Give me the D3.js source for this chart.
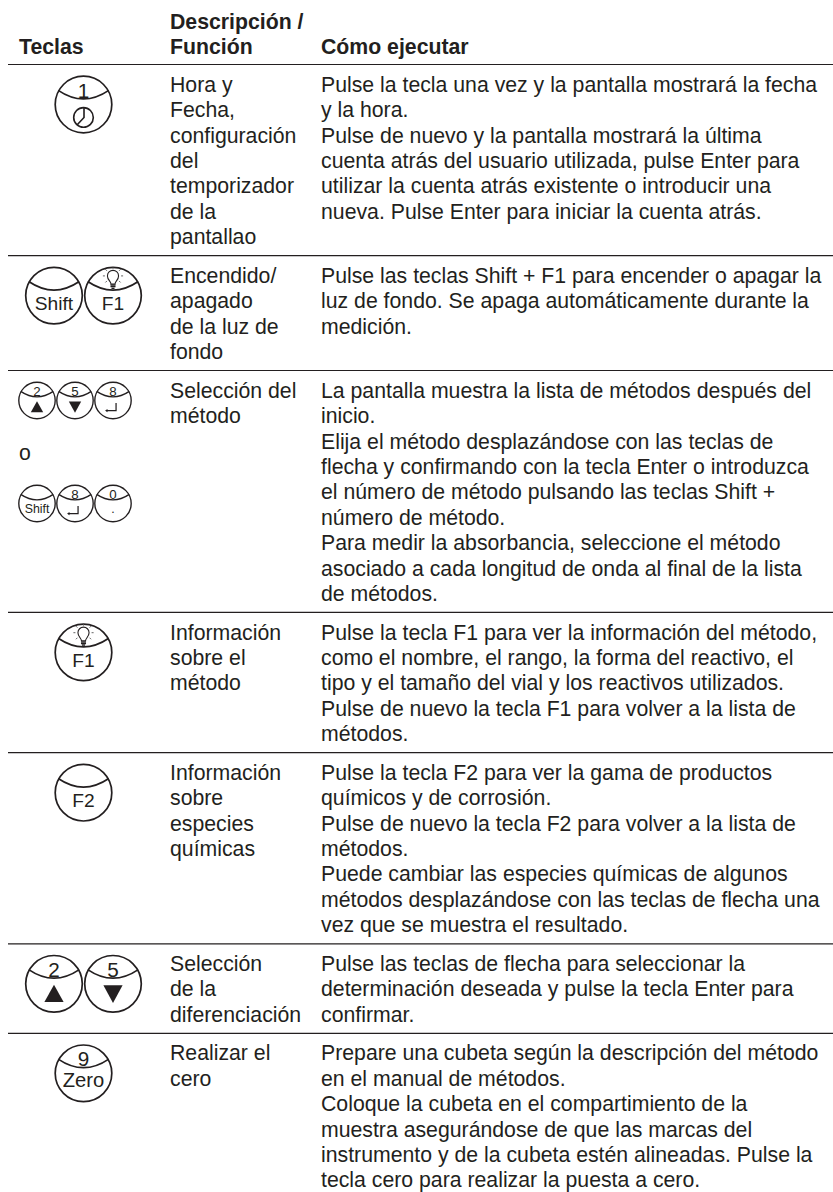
<!DOCTYPE html>
<html>
<head>
<meta charset="utf-8">
<script src="https://cdn.jsdelivr.net/npm/d3@7"></script>
<style>
body { margin: 0; background: #fff; }
text { font-family: "Liberation Sans", Arial, sans-serif; fill: #231f20; }
</style>
</head>
<body>
<div id="chart"></div>
<script>
var headers = [["Teclas"], ["Descripción /", "Función"], ["Cómo ejecutar"]];

var descriptions = [
    ["Hora y", "Fecha,", "configuración", "del", "temporizador", "de la", "pantallao"],
    ["Encendido/", "apagado", "de la luz de", "fondo"],
    ["Selección del", "método"],
    ["Información", "sobre el", "método"],
    ["Información", "sobre", "especies", "químicas"],
    ["Selección", "de la", "diferenciación"],
    ["Realizar el", "cero"]
];

var instructions = [
    ["Pulse la tecla una vez y la pantalla mostrará la fecha", "y la hora.", "Pulse de nuevo y la pantalla mostrará la última", "cuenta atrás del usuario utilizada, pulse Enter para", "utilizar la cuenta atrás existente o introducir una", "nueva. Pulse Enter para iniciar la cuenta atrás."],
    ["Pulse las teclas Shift + F1 para encender o apagar la", "luz de fondo. Se apaga automáticamente durante la", "medición."],
    ["La pantalla muestra la lista de métodos después del", "inicio.", "Elija el método desplazándose con las teclas de", "flecha y confirmando con la tecla Enter o introduzca", "el número de método pulsando las teclas Shift +", "número de método.", "Para medir la absorbancia, seleccione el método", "asociado a cada longitud de onda al final de la lista", "de métodos."],
    ["Pulse la tecla F1 para ver la información del método,", "como el nombre, el rango, la forma del reactivo, el", "tipo y el tamaño del vial y los reactivos utilizados.", "Pulse de nuevo la tecla F1 para volver a la lista de", "métodos."],
    ["Pulse la tecla F2 para ver la gama de productos", "químicos y de corrosión.", "Pulse de nuevo la tecla F2 para volver a la lista de", "métodos.", "Puede cambiar las especies químicas de algunos", "métodos desplazándose con las teclas de flecha una", "vez que se muestra el resultado."],
    ["Pulse las teclas de flecha para seleccionar la", "determinación deseada y pulse la tecla Enter para", "confirmar."],
    ["Prepare una cubeta según la descripción del método", "en el manual de métodos.", "Coloque la cubeta en el compartimiento de la", "muestra asegurándose de que las marcas del", "instrumento y de la cubeta estén alineadas. Pulse la", "tecla cero para realizar la puesta a cero."]
];

// key groups per row, each key is [upper label, lower label]
var keyGroups = [
    [[["1", "#clock"]]],
    [[["", "Shift"], ["#bulb", "F1"]]],
    [[["2", "#up"], ["5", "#down"], ["8", "#enter"]], [["", "Shift"], ["8", "#enter"], ["0", "."]]],
    [[["#bulb", "F1"]]],
    [[["", "F2"]]],
    [[["2", "#up"], ["5", "#down"]]],
    [[["9", "Zero"]]]
];
var orWord = "o";

var width = 833, height = 1192;
var left = 8, right = 833, top0 = 64.5;
var colX = [19, 170, 321];
var lineHeight = 25.4, rowPad = 13.3, firstBase = 27.2;
var fontSize = 21.25;

var svg = d3.select("#chart").append("svg")
    .attr("width", width)
    .attr("height", height);

var lineY = d3.scaleLinear().domain([0, 1]).range([0, lineHeight]);

var rowHeights = descriptions.map(function (d, i) {
    return Math.max(d.length, instructions[i].length) * lineHeight + rowPad;
});
var rowTops = [top0].concat(Array.from(d3.cumsum(rowHeights), function (h) { return top0 + h; }));

// header
var head = svg.append("g").attr("class", "header");
headers.forEach(function (lines, c) {
    lines.forEach(function (t, i) {
        head.append("text")
            .attr("x", colX[c])
            .attr("y", 53.5 - 25 * (lines.length - 1 - i))
            .attr("font-size", fontSize)
            .attr("font-weight", "bold")
            .text(t);
    });
});

// rules
svg.selectAll("line.rule")
    .data(rowTops.slice(0, descriptions.length))
    .enter().append("line")
    .attr("class", "rule")
    .attr("x1", left).attr("x2", right)
    .attr("y1", function (d) { return d; })
    .attr("y2", function (d) { return d; })
    .attr("stroke", "#231f20")
    .attr("stroke-width", 1.2);

// text columns
var rows = svg.selectAll("g.row")
    .data(descriptions)
    .enter().append("g")
    .attr("class", "row")
    .attr("transform", function (d, i) { return "translate(0," + rowTops[i] + ")"; });

[descriptions, instructions].forEach(function (col, c) {
    rows.each(function (d, r) {
        d3.select(this).selectAll("text.c" + c)
            .data(col[r])
            .enter().append("text")
            .attr("class", "c" + c)
            .attr("x", colX[c + 1])
            .attr("y", function (t, i) { return firstBase + lineY(i); })
            .attr("font-size", fontSize)
            .text(function (t) { return t; });
    });
});

function drawGlyph(g, name) {
    var ink = "#231f20";
    if (name === "#clock") {
        g.append("circle").attr("cx", 0).attr("cy", 12.8).attr("r", 9.7)
            .attr("fill", "none").attr("stroke", ink).attr("stroke-width", 1.6);
        g.append("path").attr("d", "M0.5,3.2V12.8L-6.2,20")
            .attr("fill", "none").attr("stroke", ink).attr("stroke-width", 1.6);
    } else if (name === "#up") {
        g.append("path").attr("d", "M0,1L9.5,18H-9.5Z").attr("fill", ink);
    } else if (name === "#down") {
        g.append("path").attr("d", "M-9.5,1.5H9.5L0,19Z").attr("fill", ink);
    } else if (name === "#enter") {
        g.append("path").attr("d", "M4.7,4V15.5H-11")
            .attr("fill", "none").attr("stroke", ink).attr("stroke-width", 1.9);
        g.append("path").attr("d", "M-12,15.5L-8.5,13V18Z").attr("fill", ink);
    } else if (name === "#bulb") {
        g.append("path")
            .attr("d", "M-2,-11.5C-2,-14 -5.5,-15.5 -5.5,-19.5A5.5,5.5 0 1 1 5.5,-19.5C5.5,-15.5 2,-14 2,-11.5Z")
            .attr("fill", "none").attr("stroke", ink).attr("stroke-width", 1.1);
        g.append("path").attr("d", "M-2.5,-10.5H2.5M-2.5,-8.8H2.5M-1.5,-7.2H1.5")
            .attr("fill", "none").attr("stroke", ink).attr("stroke-width", 1.3);
        g.append("path").attr("d", "M-10,-19.5H-8M8,-19.5H10M-7.5,-26L-6,-24.5M7.5,-26L6,-24.5M-7.5,-13L-6,-14.5M7.5,-13L6,-14.5M0,-28V-26.5")
            .attr("fill", "none").attr("stroke", "#555").attr("stroke-width", 0.9);
    }
}

function drawKey(sel, key, cx, cy, r) {
    var k = r / 28;
    var g = sel.append("g")
        .attr("class", "key")
        .attr("transform", "translate(" + cx + "," + cy + ") scale(" + k + ")");
    g.append("circle").attr("r", 28)
        .attr("fill", "none").attr("stroke", "#231f20").attr("stroke-width", 1.7 / Math.sqrt(k));
    g.append("path").attr("d", "M-25,-14Q0,3 25,-14")
        .attr("fill", "none").attr("stroke", "#231f20").attr("stroke-width", 1.7 / Math.sqrt(k));
    key.forEach(function (label, i) {
        if (label === "") return;
        if (label.charAt(0) === "#") { drawGlyph(g, label); return; }
        g.append("text")
            .attr("x", 0)
            .attr("y", i === 0 ? -6.8 : 14)
            .attr("text-anchor", "middle")
            .attr("font-size", i === 0 ? 20.5 : (label === "Zero" ? 20 : 19))
            .text(label);
    });
}

// keys column
var bigR = 28.3, smallR = 18.2;
keyGroups.forEach(function (groups, r) {
    var small = groups[0].length > 2;
    groups.forEach(function (keys, j) {
        var step = small ? 38 : 59;
        var cxMid = small ? 75 : 83.5;
        var cy = rowTops[r] + (small ? 30 + j * 103 : 40);
        keys.forEach(function (key, i) {
            drawKey(svg, key, cxMid + (i - (keys.length - 1) / 2) * step, cy, small ? smallR : bigR);
        });
    });
});

svg.append("text")
    .attr("x", colX[0])
    .attr("y", rowTops[2] + 89)
    .attr("font-size", fontSize)
    .text(orWord);
</script>
</body>
</html>
